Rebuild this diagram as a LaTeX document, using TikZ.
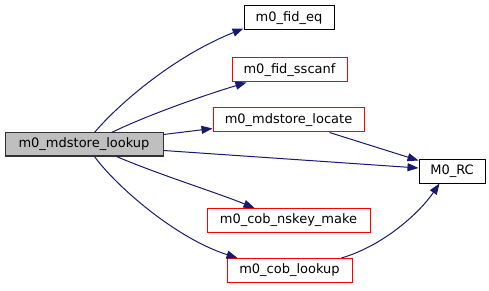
\documentclass[tikz,border=0pt]{standalone}
\usepackage{fontspec}
\setmainfont{DejaVu Sans}
\usetikzlibrary{arrows.meta}
\definecolor{edgeblue}{HTML}{191970}
\definecolor{rootfill}{HTML}{BFBFBF}
\definecolor{linkred}{HTML}{FF0000}
\begin{document}
\begin{tikzpicture}[x=1pt,y=-1pt,
  fn/.style={draw=black,line width=1pt,fill=white,rectangle,inner sep=0pt,
    minimum height=24pt,font=\fontsize{13}{15}\selectfont},
  rootfn/.style={fn,fill=rootfill,draw=black!80},
  extfn/.style={fn,draw=linkred},
  call/.style={draw=edgeblue,line width=1pt,
    -{Triangle[length=11pt,width=8pt,fill=edgeblue]}}]
\fill[white] (0,0) rectangle (489,291);
\useasboundingbox (0,0) rectangle (489,291);

% functions
\node[rootfn,minimum width=158pt,minimum height=23pt] (lookup) at (84,144.5) {m0\_mdstore\_lookup};
\node[fn,minimum width=90pt] (fideq) at (289,18) {m0\_fid\_eq};
\node[extfn,minimum width=115pt] (sscanf) at (289.5,70) {m0\_fid\_sscanf};
\node[extfn,minimum width=151pt] (locate) at (288.5,120) {m0\_mdstore\_locate};
\node[fn,minimum width=66pt] (rc) at (452,171) {M0\_RC};
\node[extfn,minimum width=163pt] (nskey) at (288.5,220.5) {m0\_cob\_nskey\_make};
\node[extfn,minimum width=125pt] (coblookup) at (289.5,270.5) {m0\_cob\_lookup};

% calls
\draw[call] ([xshift=90pt]lookup.north west) .. controls (115,108) and (170,58) .. ([yshift=2pt]fideq.south west);
\draw[call] ([xshift=107pt]lookup.north west) .. controls (150,114) and (205,95) .. ([xshift=15pt]sscanf.south west);
\draw[call] ([yshift=-2pt]lookup.north east) -- ([yshift=4pt]locate.south west);
\draw[call] ([yshift=6pt]lookup.south east) -- ([yshift=3pt]rc.west);
\draw[call] ([xshift=117pt]locate.south west) -- ([yshift=-2pt]rc.north west);
\draw[call] ([xshift=112pt]lookup.south west) .. controls (160,175) and (215,192) .. ([xshift=48pt]nskey.north west);
\draw[call] ([xshift=90pt]lookup.south west) .. controls (115,185) and (175,238) .. ([xshift=11pt]coblookup.north west);
\draw[call] ([xshift=115pt]coblookup.north west) .. controls (385,245) and (420,212) .. ([xshift=21pt]rc.south west);
\end{tikzpicture}
\end{document}
